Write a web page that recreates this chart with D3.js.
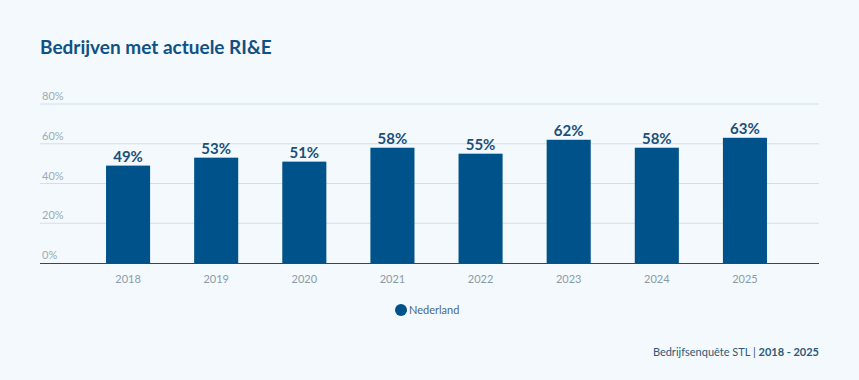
<!DOCTYPE html>
<html><head><meta charset="utf-8">
<script src="https://cdn.jsdelivr.net/npm/d3@7"></script>
<style>
html,body{margin:0;padding:0;background:#f3f9fc;}
svg{display:block;font-family:"Source Sans Pro","Lato","Open Sans",sans-serif;}
</style></head>
<body><svg id="c" width="859" height="380"></svg>
<script>
const categories = ["2018","2019","2020","2021","2022","2023","2024","2025"];
const values = [49,53,51,58,55,62,58,63];
const yTicks = [0,20,40,60,80];
const seriesName = "Nederland";

const svg = d3.select("#c");
svg.append("rect").attr("width",859).attr("height",380).attr("fill","#f3f9fc");

svg.append("text").attr("x",40).attr("y",54).attr("fill","#0f5185")
  .attr("font-size",19).attr("font-weight",700).text("Bedrijven met actuele RI&E");

const y = d3.scaleLinear().domain([0,80]).range([263,104]);
const x = d3.scaleBand().domain(categories).range([84,789]).paddingInner(0.5).paddingOuter(0.25);

const grid = svg.append("g");
yTicks.forEach(t=>{
  if(t>0) grid.append("line").attr("x1",40).attr("x2",819).attr("y1",y(t)).attr("y2",y(t))
    .attr("stroke","#cfe0ea").attr("stroke-width",1);
  grid.append("text").attr("x",42).attr("y",y(t)-4).attr("fill","#9aabb6")
    .attr("font-size",11).text(t+"%");
});

svg.selectAll("rect.bar").data(values).enter().append("rect").attr("class","bar")
  .attr("x",(d,i)=>x(categories[i])).attr("width",x.bandwidth())
  .attr("y",d=>y(d)).attr("height",d=>y(0)-y(d)).attr("fill","#00528a");

svg.selectAll("text.val").data(values).enter().append("text")
  .attr("x",(d,i)=>x(categories[i])+x.bandwidth()/2).attr("y",d=>y(d)-4)
  .attr("text-anchor","middle").attr("fill","#1a4f7a").attr("font-size",15).attr("font-weight",700)
  .text(d=>d+"%");

svg.append("line").attr("x1",40).attr("x2",819).attr("y1",y(0)+0.5).attr("y2",y(0)+0.5)
  .attr("stroke","#1f4e6b").attr("stroke-width",1.2);

svg.selectAll("text.cat").data(categories).enter().append("text")
  .attr("x",d=>x(d)+x.bandwidth()/2).attr("y",283).attr("text-anchor","middle")
  .attr("fill","#8a9ba7").attr("font-size",11).text(d=>d);

svg.append("circle").attr("cx",401).attr("cy",310).attr("r",6).attr("fill","#00528a");
svg.append("text").attr("x",409).attr("y",314).attr("fill","#4a6a82").attr("font-size",11).text(seriesName);

const f = svg.append("text").attr("x",819).attr("y",356).attr("text-anchor","end").attr("fill","#2e5a78").attr("font-size",11);
f.append("tspan").text("Bedrijfsenquête STL | ");
f.append("tspan").attr("font-weight",700).text("2018 - 2025");
</script></body></html>
